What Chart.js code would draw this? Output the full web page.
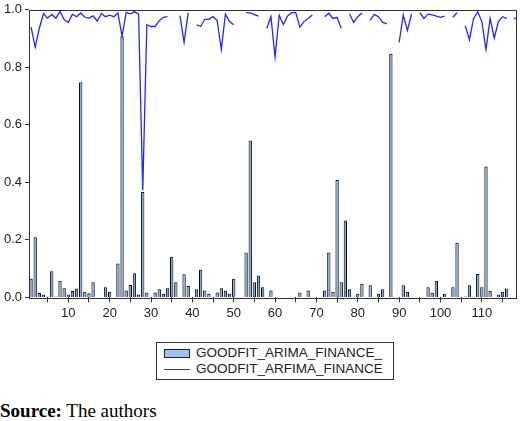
<!DOCTYPE html>
<html>
<head>
<meta charset="utf-8">
<script src="https://cdn.jsdelivr.net/npm/chart.js@4"></script>
<style>
  html, body { margin: 0; padding: 0; background: #fff; }
  body { width: 520px; height: 421px; position: relative; overflow: hidden; font-family: "Liberation Sans", Arial, sans-serif; }
  #wrap { position: absolute; left: 0; top: 0; width: 520px; height: 324px; }
  #legend { position: absolute; left: 156px; top: 342px; width: 236px; height: 36px; border: 1px solid #333; box-sizing: content-box; }
  .row { position: absolute; left: 0; height: 16px; font-size: 13.5px; line-height: 16px; color: #222; white-space: nowrap; }
  .row span.txt { position: absolute; left: 39px; top: 0; }
  .sw-bar { position: absolute; left: 7px; top: 4px; width: 24px; height: 7px; background: #9ec3f0; border: 1px solid #222; }
  .sw-line { position: absolute; left: 7px; top: 8px; width: 26px; height: 1px; background: #2424ff; }
  #source { position: absolute; left: 0; top: 400px; font-family: "Liberation Serif", "Times New Roman", serif; font-size: 19px; line-height: 22px; color: #000; white-space: nowrap; }
</style>
</head>
<body>
<div id="wrap"><canvas id="c" width="520" height="324"></canvas></div>
<div id="legend">
  <div class="row" style="top:2px;"><div class="sw-bar"></div><span class="txt">GOODFIT_ARIMA_FINANCE_</span></div>
  <div class="row" style="top:18px;"><div class="sw-line"></div><span class="txt">GOODFIT_ARFIMA_FINANCE</span></div>
</div>
<div id="source"><b>Source:</b> The authors</div>
<script>
const categories = [
  1,2,3,4,5,6,7,8,9,10,11,12,13,14,15,16,17,18,19,20,
  21,22,23,24,25,26,27,28,29,30,31,32,33,34,35,36,37,38,39,40,
  41,42,43,44,45,46,47,48,49,50,51,52,53,54,55,56,57,58,59,60,
  61,62,63,64,65,66,67,68,69,70,71,72,73,74,75,76,77,78,79,80,
  81,82,83,84,85,86,87,88,89,90,91,92,93,94,95,96,97,98,99,100,
  101,102,103,104,105,106,107,108,109,110,111,112,113,114,115,116,117,118
];
const xTickLabels = ['10','20','30','40','50','60','70','80','90','100','110'];
const yTickValues = [0.0, 0.2, 0.4, 0.6, 0.8, 1.0];

const goodfitArima = [
  0.065,0.209,0.015,0.010,0.003,0.091,0.003,0.058,0.032,0.010,
  0.022,0.031,0.747,0.020,0.014,0.053,null,null,0.035,0.020,
  null,0.118,0.907,0.024,0.043,0.084,0.010,0.366,0.017,null,
  0.017,0.028,0.013,0.032,0.141,0.053,null,0.080,0.040,null,
  0.028,0.096,0.024,0.013,null,0.017,0.032,0.024,0.013,0.065,
  null,null,0.156,0.545,0.053,0.076,0.035,null,0.024,null,
  null,null,null,null,null,0.017,null,0.024,null,null,
  null,0.024,0.156,0.020,0.408,0.053,0.267,0.028,null,0.013,
  0.047,null,0.042,null,0.013,0.028,null,0.846,null,null,
  0.042,0.020,null,null,null,null,0.035,0.016,0.058,null,
  0.013,null,0.035,0.190,null,0.003,0.042,null,0.081,0.035,
  0.455,0.023,null,0.010,0.020,0.031,null,null
];

const goodfitArfima = [
  0.939,0.869,0.935,0.986,0.970,0.983,0.970,0.993,0.965,0.955,
  0.984,0.975,0.988,0.973,0.970,0.978,0.960,0.986,0.975,0.980,
  0.975,0.988,0.907,0.990,0.985,0.992,0.985,0.372,0.947,0.941,
  0.941,0.961,0.973,0.975,null,null,0.979,0.886,0.989,null,
  0.947,0.941,0.966,0.966,0.976,0.962,0.861,0.984,0.958,0.947,
  null,null,0.989,0.988,0.982,0.977,null,0.935,0.975,0.835,
  0.980,0.948,0.977,0.989,0.989,0.939,0.958,0.969,0.981,null,
  null,0.975,0.987,0.969,0.973,0.935,null,0.985,0.955,0.975,
  0.988,null,0.962,0.983,0.975,0.956,0.950,null,null,0.886,
  0.981,0.927,0.984,null,0.989,0.969,0.984,0.981,0.977,0.973,
  0.977,null,0.973,0.989,null,0.943,0.895,0.969,0.992,0.958,
  0.861,0.969,0.901,0.958,0.975,0.969,null,0.969
];

const seriesNames = ['GOODFIT_ARIMA_FINANCE_', 'GOODFIT_ARFIMA_FINANCE'];

Chart.defaults.font.family = '"Liberation Sans", Arial, sans-serif';
Chart.defaults.font.size = 13;
Chart.defaults.color = '#222';

const frame = {
  id: 'frame',
  afterDatasetsDraw(chart) {
    const a = chart.chartArea, ctx = chart.ctx;
    ctx.save();
    ctx.strokeStyle = '#333';
    ctx.lineWidth = 1;
    ctx.strokeRect(Math.round(a.left) + 0.5, Math.round(a.top) + 0.5,
                   Math.round(a.right - a.left) - 1, Math.round(a.bottom - a.top));
    ctx.restore();
  }
};

new Chart(document.getElementById('c'), {
  data: {
    labels: categories,
    datasets: [
      {
        type: 'line',
        label: seriesNames[1],
        data: goodfitArfima,
        borderColor: '#2424ff',
        backgroundColor: '#2424ff',
        borderWidth: 1.3,
        tension: 0,
        spanGaps: false,
        order: 0,
        pointRadius: (ctx) => {
          const d = ctx.dataset.data, i = ctx.dataIndex;
          if (d[i] == null) return 0;
          const prev = i > 0 ? d[i - 1] : null;
          const next = i < d.length - 1 ? d[i + 1] : null;
          return (prev == null && next == null) ? 1 : 0;
        },
        pointBorderWidth: 0,
        pointHoverRadius: 0
      },
      {
        type: 'bar',
        label: seriesNames[0],
        data: goodfitArima,
        backgroundColor: '#7ea8dc',
        borderColor: '#000',
        borderWidth: 1,
        barPercentage: 0.8,
        categoryPercentage: 1.0,
        order: 1
      }
    ]
  },
  options: {
    responsive: false,
    animation: false,
    devicePixelRatio: 1,
    layout: { padding: { left: 0, right: 3, top: 0, bottom: 0 } },
    plugins: { legend: { display: false }, tooltip: { enabled: false } },
    scales: {
      x: {
        type: 'category',
        offset: true,
        border: { display: false },
        grid: {
          offset: false,
          drawOnChartArea: false,
          drawTicks: true,
          tickLength: 5,
          tickColor: (ctx) => ((ctx.index + 1) % 5 === 0 ? '#333' : 'rgba(0,0,0,0)'),
          tickWidth: 1
        },
        ticks: {
          autoSkip: false,
          maxRotation: 0,
          padding: 3,
          color: '#222',
          font: { size: 13 },
          callback: function (value, index) {
            const lab = String(categories[index]);
            return xTickLabels.includes(lab) ? lab : '';
          }
        }
      },
      y: {
        min: 0,
        max: 1,
        border: { display: false },
        afterFit: (scale) => { scale.width = 29; },
        grid: { drawOnChartArea: false, drawTicks: true, tickLength: 4, tickColor: '#333' },
        ticks: {
          stepSize: 0.2,
          padding: 3,
          color: '#222',
          font: { size: 13, lineHeight: 1.0 },
          callback: (v) => {
            const m = yTickValues.find(t => Math.abs(t - v) < 1e-6);
            return m === undefined ? '' : m.toFixed(1);
          }
        }
      }
    }
  },
  plugins: [frame]
});
</script>
</body>
</html>
